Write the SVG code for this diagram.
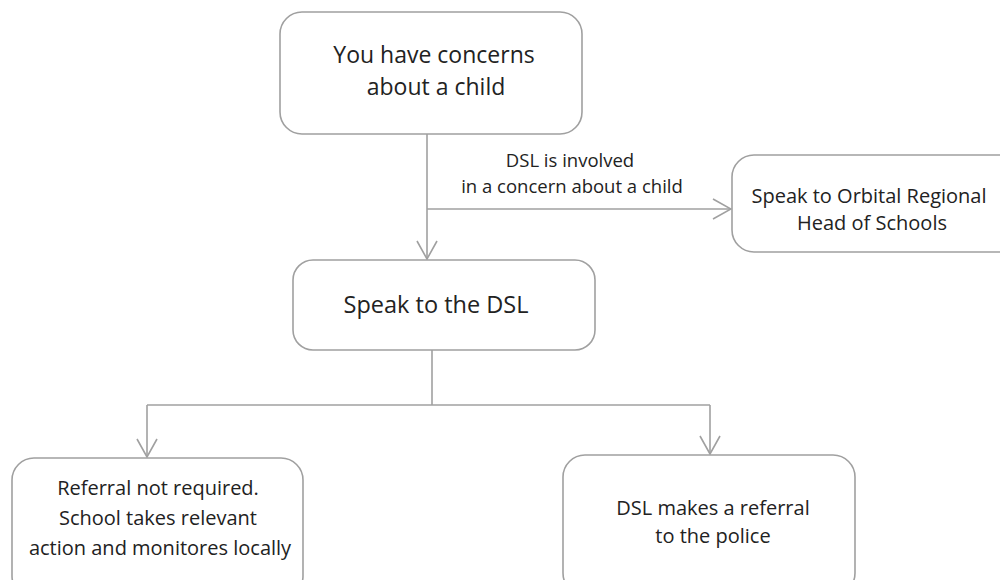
<svg xmlns="http://www.w3.org/2000/svg" width="1000" height="580" viewBox="0 0 1000 580">
<defs>
<style>
.box{fill:#fff;stroke:#a0a0a0;stroke-width:1.6}
.t{font-family:"Open Sans","Noto Sans",sans-serif;fill:#222;text-anchor:middle;font-weight:500}
.ln{fill:none;stroke:#a0a0a0;stroke-width:1.6}
</style>
<marker id="arr" viewBox="0 0 20 22" refX="19" refY="11" markerWidth="20" markerHeight="22" markerUnits="userSpaceOnUse" orient="auto">
<path d="M1,1 L19,11 L1,21" fill="none" stroke="#a0a0a0" stroke-width="1.6"/>
</marker>
</defs>
<rect width="1000" height="580" fill="#fff"/>
<g id="connectors">
<path class="ln" d="M427,134 V259" marker-end="url(#arr)"/>
<path class="ln" d="M427,209 H731" marker-end="url(#arr)"/>
<path class="ln" d="M432,350 V405"/>
<path class="ln" d="M147,405 H710"/>
<path class="ln" d="M147,405 V457" marker-end="url(#arr)"/>
<path class="ln" d="M710,405 V454" marker-end="url(#arr)"/>
<text class="t" x="570" y="167" font-size="18.5">DSL is involved</text>
<text class="t" x="572" y="193" font-size="18.5">in a concern about a child</text>
</g>
<g id="n1">
<rect class="box" x="280" y="12" width="302" height="122" rx="22"/>
<text class="t" x="434" y="63" font-size="23">You have concerns</text>
<text class="t" x="436" y="95" font-size="23">about a child</text>
</g>
<g id="n2">
<rect class="box" x="732" y="155" width="290" height="97" rx="22"/>
<text class="t" x="869" y="203" font-size="20">Speak to Orbital Regional</text>
<text class="t" x="872" y="230" font-size="20">Head of Schools</text>
</g>
<g id="n3">
<rect class="box" x="293" y="260" width="302" height="90" rx="20"/>
<text class="t" x="436" y="313" font-size="23.5">Speak to the DSL</text>
</g>
<g id="n4">
<rect class="box" x="12" y="458" width="291" height="140" rx="22"/>
<text class="t" x="158" y="495" font-size="20">Referral not required.</text>
<text class="t" x="158" y="525" font-size="20">School takes relevant</text>
<text class="t" x="160" y="555" font-size="20">action and monitores locally</text>
</g>
<g id="n5">
<rect class="box" x="563" y="455" width="292" height="140" rx="22"/>
<text class="t" x="713" y="515" font-size="20">DSL makes a referral</text>
<text class="t" x="713" y="543" font-size="20">to the police</text>
</g>
</svg>
